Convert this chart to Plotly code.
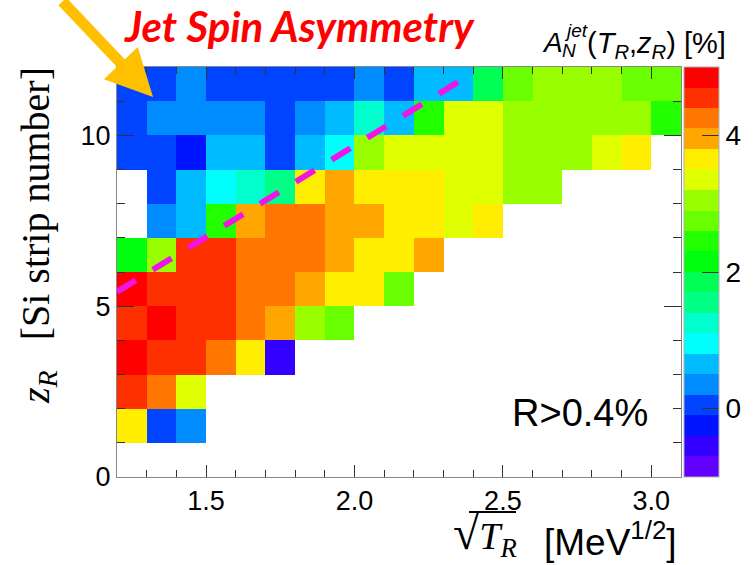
import plotly.graph_objects as go

# ---------------- data ----------------
x_centers = [1.25, 1.35, 1.45, 1.55, 1.65, 1.75, 1.85, 1.95, 2.05, 2.15,
             2.25, 2.35, 2.45, 2.55, 2.65, 2.75, 2.85, 2.95, 3.05]
y_centers = [1.5, 2.5, 3.5, 4.5, 5.5, 6.5, 7.5, 8.5, 9.5, 10.5, 11.5]

N = None
row_1 = [3.65, 0.05, 0.35] + [N] * 16
row_2 = [4.55, 4.25, 3.35] + [N] * 16
row_3 = [4.85, 4.55, 4.55, 4.25, 3.65, -0.55] + [N] * 13
row_4 = [4.55, 4.85, 4.55, 4.55, 4.25, 3.95, 3.05, 2.75] + [N] * 11
row_5 = [4.85, 4.55, 4.55, 4.55, 4.25, 4.25, 3.95, 3.65, 3.65, 2.75] + [N] * 9
row_6 = [2.15, 3.05, 4.55, 4.55, 4.25, 4.25, 4.25, 3.95, 3.65, 3.65, 3.95] + [N] * 8
row_7 = [N, 0.35, 0.65, 2.45, 3.95, 4.25, 4.25, 3.95, 3.95, 3.65, 3.65, 3.35, 3.65] + [N] * 6
row_8 = [N, 0.05, 0.65, 0.95, 1.25, 1.55, 3.65, 3.95, 3.65, 3.65, 3.65, 3.35, 3.35, 3.05, 3.05] + [N] * 4
row_9 = [0.05, 0.05, -0.25, 0.65, 0.65, 0.05, 0.65, 0.95, 3.05, 3.35, 3.35, 3.35, 3.35,
         3.05, 3.05, 3.05, 3.35, 3.65, N]
row_10 = [0.05, 0.35, 0.35, 0.35, 0.35, 0.05, 0.35, 0.65, 1.25, 0.65, 2.45, 3.35, 3.35,
          3.05, 3.05, 3.05, 3.05, 3.05, 2.45]
row_11 = [0.05, 0.05, 0.35, 0.05, 0.05, 0.05, 0.05, 0.05, 0.35, 0.05, 0.65, 0.65, 1.85,
          2.75, 3.05, 3.05, 3.05, 2.75, 2.75]
z_rows = [row_1, row_2, row_3, row_4, row_5, row_6, row_7, row_8, row_9, row_10, row_11]

# dashed guide line
line_x = [1.2, 2.356]
line_y = [5.42, 11.6]

# colour palette (20 bands, -1 .. 5)
band_colors = [
    "rgb(98,0,255)", "rgb(51,0,255)", "rgb(0,20,255)", "rgb(0,68,255)",
    "rgb(0,139,255)", "rgb(0,187,255)", "rgb(0,255,252)", "rgb(0,255,204)",
    "rgb(0,255,133)", "rgb(0,255,85)", "rgb(0,255,14)", "rgb(34,255,0)",
    "rgb(105,255,0)", "rgb(153,255,0)", "rgb(224,255,0)", "rgb(255,238,0)",
    "rgb(255,167,0)", "rgb(255,119,0)", "rgb(255,48,0)", "rgb(255,0,0)",
]
zmin, zmax = -1.0, 5.0

x_tick_vals = [1.5, 2.0, 2.5, 3.0]
x_tick_text = ["1.5", "2.0", "2.5", "3.0"]
y_tick_vals = [0, 5, 10]
cb_tick_vals = [0, 2, 4]

# ---------------- layout geometry ----------------
W, H = 755, 565
L, R, T, B = 117, 681, 67, 477
PW, PH = R - L, B - T


def px(xp):
    return (xp - L) / PW


def py(yp):
    return (B - yp) / PH


nb = len(band_colors)
colorscale = []
for i, c in enumerate(band_colors):
    colorscale.append([i / nb, c])
    colorscale.append([(i + 1) / nb, c])

fig = go.Figure()
fig.add_trace(go.Heatmap(
    x=x_centers, y=y_centers, z=z_rows,
    zmin=zmin, zmax=zmax, colorscale=colorscale,
    hoverongaps=False,
    colorbar=dict(
        x=px(684), xanchor="left", xpad=0, ypad=0,
        y=0, yanchor="bottom", len=1, lenmode="fraction",
        thickness=35, outlinewidth=1, outlinecolor="#b0b0b0",
        tickvals=cb_tick_vals, ticks="inside", ticklen=17, tickcolor="#333",
        tickfont=dict(family="Liberation Sans", size=28, color="black"),
    ),
))
fig.add_trace(go.Scatter(
    x=line_x, y=line_y, mode="lines",
    line=dict(color="rgb(240,20,230)", width=6, dash="22px,20px"),
    showlegend=False, hoverinfo="skip",
))

axis_common = dict(
    showline=True, linecolor="#888", linewidth=1, mirror="ticks",
    ticks="inside", tickcolor="#333", showgrid=False, zeroline=False,
    tickfont=dict(family="Liberation Sans", size=27, color="black"),
)

fig.update_xaxes(
    range=[1.2, 3.1], tickvals=x_tick_vals, ticktext=x_tick_text, ticklen=12,
    minor=dict(dtick=0.1, tick0=1.2, ticks="inside", ticklen=7, tickcolor="#333", showgrid=False),
    **axis_common,
)
fig.update_yaxes(
    range=[0, 12], tickvals=y_tick_vals, ticklen=17,
    minor=dict(dtick=1, tick0=0, ticks="inside", ticklen=8, tickcolor="#333", showgrid=False),
    **axis_common,
)

annotations = [
    # title
    dict(x=px(299), y=py(26), xref="paper", yref="paper", showarrow=False,
         text="Jet Spin Asymmetry", xanchor="center", yanchor="middle",
         font=dict(family="Lato", size=42, color="#FF0000", weight="bold", style="italic")),
    # arrow
    dict(x=px(153), y=py(97), xref="paper", yref="paper", showarrow=True,
         ax=-92, ay=-112, arrowhead=2, arrowwidth=11, arrowsize=0.85,
         arrowcolor="#FFC000", text=""),
    # R>0.4%
    dict(x=px(580), y=py(413), xref="paper", yref="paper", showarrow=False,
         text="R>0.4%", xanchor="center", yanchor="middle",
         font=dict(family="Liberation Sans", size=38, color="black")),
    # y axis title
    dict(x=px(38), y=py(236), xref="paper", yref="paper", showarrow=False,
         text="<i>z</i><sub><i>R</i></sub>&nbsp;&nbsp;&nbsp;[Si strip number]",
         textangle=-90, xanchor="center", yanchor="middle",
         font=dict(family="Liberation Serif", size=40, color="black")),
    # x axis title: radical part
    dict(x=px(451), y=py(534), xref="paper", yref="paper", showarrow=False,
         text='<span style="font-size:48px">√</span><i>T</i><sub><i>R</i></sub>',
         xanchor="left", yanchor="middle",
         font=dict(family="Liberation Serif", size=38, color="black")),
    # x axis title: unit part
    dict(x=px(679), y=py(539), xref="paper", yref="paper", showarrow=False,
         text='[MeV<sup>1/2</sup>]',
         xanchor="right", yanchor="middle",
         font=dict(family="Liberation Sans", size=37, color="black")),
    # colour bar title pieces
    dict(x=px(552), y=py(43), xref="paper", yref="paper", showarrow=False,
         text="<i>A</i>", xanchor="center", yanchor="middle",
         font=dict(family="Liberation Sans", size=28, color="black")),
    dict(x=px(562), y=py(31), xref="paper", yref="paper", showarrow=False,
         text="<i>jet</i>", xanchor="left", yanchor="middle",
         font=dict(family="Liberation Sans", size=19, color="black")),
    dict(x=px(560), y=py(51), xref="paper", yref="paper", showarrow=False,
         text="<i>N</i>", xanchor="left", yanchor="middle",
         font=dict(family="Liberation Sans", size=19, color="black")),
    dict(x=px(585), y=py(45), xref="paper", yref="paper", showarrow=False,
         text="(<i>T</i><sub><i>R</i></sub>,<i>z</i><sub><i>R</i></sub>) [%]",
         xanchor="left", yanchor="middle",
         font=dict(family="Liberation Sans", size=29, color="black")),
]

shapes = [
    # vinculum of the square-root sign
    dict(type="line", xref="paper", yref="paper",
         x0=px(469), x1=px(516), y0=py(512), y1=py(512),
         line=dict(color="black", width=2)),
]

fig.update_layout(
    width=W, height=H,
    margin=dict(l=L, r=W - R, t=T, b=H - B, autoexpand=False),
    paper_bgcolor="white", plot_bgcolor="white",
    showlegend=False,
    annotations=annotations,
    shapes=shapes,
)

fig.write_html("out.html")
